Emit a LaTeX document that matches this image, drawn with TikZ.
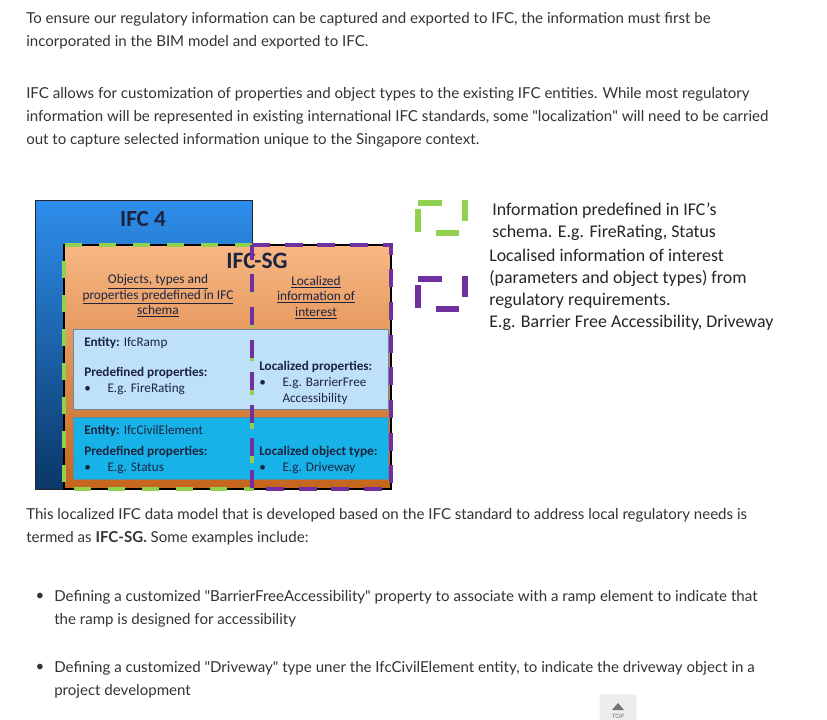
\documentclass[tikz,border=0pt]{standalone}
\usepackage{fontspec}
\setmainfont{Lato}
\newfontfamily\calfont{Carlito}
\usetikzlibrary{positioning}
\definecolor{pagetext}{HTML}{333333}
\definecolor{ifcblue}{HTML}{2E8EEC}
\definecolor{ifcnavy}{HTML}{0A3768}
\definecolor{sgorange}{HTML}{F8B784}
\definecolor{sgbrown}{HTML}{C4651C}
\definecolor{rampblue}{HTML}{BEE1F8}
\definecolor{civilcyan}{HTML}{17B3E8}
\definecolor{boxedge}{HTML}{6A8A99}
\definecolor{predgreen}{HTML}{92D050}
\definecolor{locpurple}{HTML}{7030A0}
\definecolor{boxink}{HTML}{1C2340}
\tikzset{
	bodytext/.style={anchor=north west, align=left, inner sep=0pt, text=pagetext,
		font=\fontsize{11.3}{17.25}\selectfont},
	titletext/.style={inner sep=0pt, text=boxink, font=\calfont\bfseries\fontsize{17.3}{20}\selectfont},
	headtext/.style={align=center, inner sep=0pt, text=boxink, font=\calfont\fontsize{10}{11.6}\selectfont},
	entitytext/.style={anchor=north west, align=left, inner sep=0pt, text=boxink,
		font=\calfont\fontsize{9.9}{12.2}\selectfont},
	legendtext/.style={anchor=north west, align=left, inner sep=0pt, text=black!85,
		font=\calfont\fontsize{13.4}{16.5}\selectfont},
	greendash/.style={draw=predgreen, line width=3pt, dash pattern=on 12.75pt off 12.75pt},
	purpledash/.style={draw=locpurple, line width=3pt, dash pattern=on 13.5pt off 11pt},
	legendbar/.style={line width=4pt},
	topbtn/.style={fill=black!7, rounded corners=1.5pt, minimum width=27.75pt, minimum height=22pt, inner sep=0pt}
}
\newcommand{\itembul}{\textbullet\hspace{12.5pt}}
\newcommand{\itemgap}{\phantom{\textbullet}\hspace{12.5pt}}
\begin{document}
\begin{tikzpicture}[x=0.75pt, y=-0.75pt]
	\useasboundingbox[fill=white] (0,0) rectangle (827,719);
	\node[bodytext] (intro) at (26,12)
		{To ensure our regulatory information can be captured and exported to IFC, the information must first be\\
		incorporated in the BIM model and exported to IFC.};
	\node[bodytext] (custom) at (26,87)
		{IFC allows for customization of properties and object types to the existing IFC entities. While most regulatory\\
		information will be represented in existing international IFC standards, some \textquotedbl localization\textquotedbl{} will need to be carried\\
		out to capture selected information unique to the Singapore context.};

	\path[top color=ifcblue, bottom color=ifcnavy, draw=black!85, line width=0.75pt] (35,200) rectangle (252,489);
	\path[top color=sgorange, bottom color=sgbrown] (64,245) rectangle (391,489);
	\draw[black, line width=1.2pt] (64,245) rectangle (391,489);
	\path[fill=rampblue, draw=boxedge, line width=0.75pt] (73,329) rectangle (388,409);
	\path[fill=civilcyan, draw=boxedge, line width=0.75pt] (73,417) rectangle (388,479);

	\node[titletext] (ifc4) at (143,219) {IFC 4};
	\node[titletext, font=\calfont\bfseries\fontsize{17.6}{20}\selectfont] (ifcsg) at (257,261) {IFC-SG};
	\node[headtext] (predhead) at (158,296)
		{\underline{Objects, types and}\\ \underline{properties predefined in IFC}\\ \underline{schema}};
	\node[headtext] (lochead) at (316,297.5)
		{\underline{Localized}\\ \underline{information of}\\ \underline{interest}};

	\node[entitytext, anchor=west] (rampent) at (84,343) {\textbf{Entity:} IfcRamp};
	\node[entitytext] (rampprop) at (84,366.5)
		{\textbf{Predefined properties:}\\ \itembul E.g. FireRating};
	\node[entitytext] (ramploc) at (259,360.5)
		{\textbf{Localized properties:}\\ \itembul E.g. BarrierFree\\ \itemgap Accessibility};
	\node[entitytext, anchor=west] (civilent) at (84,431) {\textbf{Entity:} IfcCivilElement};
	\node[entitytext] (civilprop) at (84,445.5)
		{\textbf{Predefined properties:}\\ \itembul E.g. Status};
	\node[entitytext] (civilloc) at (259,445.5)
		{\textbf{Localized object type:}\\ \itembul E.g. Driveway};

	\draw[greendash] (252,245) -- (64,245) -- (64,489) -- (252,489) -- cycle;
	\draw[purpledash] (252,245) -- (391,245) -- (391,489) -- (252,489) -- cycle;

	\foreach \col/\dy in {predgreen/0, locpurple/76} {
		\draw[legendbar, \col] (418,203+\dy) -- (442,203+\dy);
		\draw[legendbar, \col] (465,200+\dy) -- (465,221+\dy);
		\draw[legendbar, \col] (418,209+\dy) -- (418,232+\dy);
		\draw[legendbar, \col] (436,233+\dy) -- (459,233+\dy);
	}
	\node[legendtext] (predkey) at (492,203)
		{Information predefined in IFC’s\\ schema. E.g. FireRating, Status};
	\node[legendtext] (lockey) at (489,249)
		{Localised information of interest\\ (parameters and object types) from\\ regulatory requirements.\\ E.g. Barrier Free Accessibility, Driveway};

	\node[bodytext] (termed) at (26,508)
		{This localized IFC data model that is developed based on the IFC standard to address local regulatory needs is\\
		termed as \textbf{IFC-SG.} Some examples include:};
	\node[bodytext, anchor=center] (bul1) at (40,597) {\textbullet};
	\node[bodytext] (example1) at (54,590)
		{Defining a customized \textquotedbl BarrierFreeAccessibility\textquotedbl{} property to associate with a ramp element to indicate that\\
		the ramp is designed for accessibility};
	\node[bodytext, anchor=center] (bul2) at (40,668) {\textbullet};
	\node[bodytext] (example2) at (54,661)
		{Defining a customized \textquotedbl Driveway\textquotedbl{} type uner the IfcCivilElement entity, to indicate the driveway object in a\\
		project development};

	\node[topbtn] (totop) at (618,709) {};
	\fill[black!55] (612,710) -- (624,710) -- (618,703) -- cycle;
	\node[inner sep=0pt, text=black!55, font=\fontsize{4.5}{5}\selectfont, anchor=south] (toplabel) at (618,718.5) {TOP};
\end{tikzpicture}
\end{document}
